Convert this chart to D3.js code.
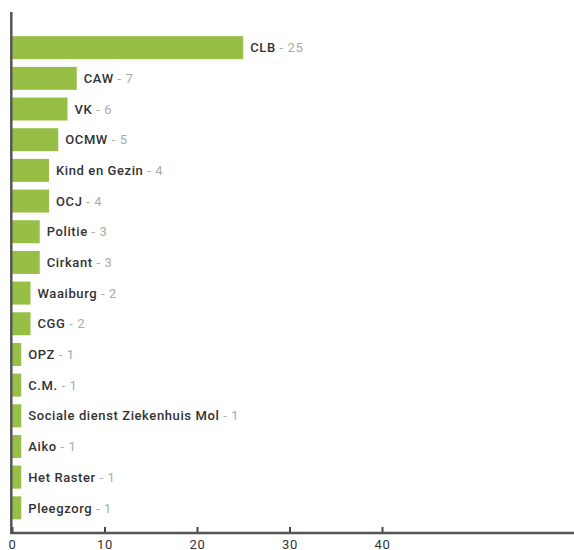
<!DOCTYPE html>
<html>
<head>
<meta charset="utf-8">
<script src="https://cdn.jsdelivr.net/npm/d3@7"></script>
<style>
  body { margin: 0; background: #fff; }
  text { font-family: Roboto, "DejaVu Sans", sans-serif; }
</style>
</head>
<body>
<script>
// data
var organisaties = ["CLB", "CAW", "VK", "OCMW", "Kind en Gezin", "OCJ", "Politie", "Cirkant",
    "Waaiburg", "CGG", "OPZ", "C.M.", "Sociale dienst Ziekenhuis Mol", "Aiko", "Het Raster", "Pleegzorg"];
var aantallen = [25, 7, 6, 5, 4, 4, 3, 3, 2, 2, 1, 1, 1, 1, 1, 1];
var tickWaarden = [0, 10, 20, 30, 40];

var width = 574, height = 550;

var rows = organisaties.map(function(d, i) {
    return { naam: d, waarde: aantallen[i] };
});

var svg = d3.select("body")
    .append("svg")
    .attr("width", width)
    .attr("height", height);

// x scale
var x = d3.scaleLinear()
    .domain([0, 60])
    .range([12, 12 + 60 * 9.25]);

// y scale
var y = d3.scaleBand()
    .domain(organisaties)
    .range([28.5, 527])
    .paddingInner(0.25)
    .paddingOuter(0.25);

var axisY = 533;

// bars
svg.selectAll(".bar")
    .data(rows)
    .enter().append("rect")
    .attr("class", "bar")
    .attr("x", x(0))
    .attr("y", function(d) { return y(d.naam); })
    .attr("width", function(d) { return x(d.waarde) - x(0); })
    .attr("height", y.bandwidth())
    .style("fill", "#98bf45");

// labels
var label = svg.selectAll(".label")
    .data(rows)
    .enter().append("text")
    .attr("class", "label")
    .attr("x", function(d) { return x(d.waarde) + 7; })
    .attr("y", function(d) { return y(d.naam) + y.bandwidth() / 2; })
    .attr("dy", "0.36em")
    .style("font-size", "13px")
    .style("letter-spacing", "0.6px");

label.append("tspan")
    .style("fill", "#333")
    .style("font-weight", 500)
    .text(function(d) { return d.naam; });

label.append("tspan")
    .style("fill", "#aaa")
    .text(function(d) { return " - " + d.waarde; });

// x axis
var xAxis = d3.axisBottom(x)
    .tickValues(tickWaarden)
    .tickSize(0)
    .tickPadding(7)
    .tickFormat(d3.format("d"));

var gx = svg.append("g")
    .attr("transform", "translate(0," + axisY + ")")
    .call(xAxis);

gx.select(".domain").remove();
gx.selectAll(".tick text")
    .style("font-size", "13px")
    .style("letter-spacing", "0.6px")
    .style("fill", "#333");

gx.selectAll(".tick").append("line")
    .attr("y1", 0)
    .attr("y2", -6)
    .style("stroke", "#444")
    .style("stroke-width", 2);

svg.append("line")
    .attr("x1", 10)
    .attr("x2", width)
    .attr("y1", axisY)
    .attr("y2", axisY)
    .style("stroke", "#555")
    .style("stroke-width", 2.5);

// y axis line
svg.append("line")
    .attr("x1", 11.3)
    .attr("x2", 11.3)
    .attr("y1", 12)
    .attr("y2", axisY + 1)
    .style("stroke", "#555")
    .style("stroke-width", 2.5);
</script>
</body>
</html>
